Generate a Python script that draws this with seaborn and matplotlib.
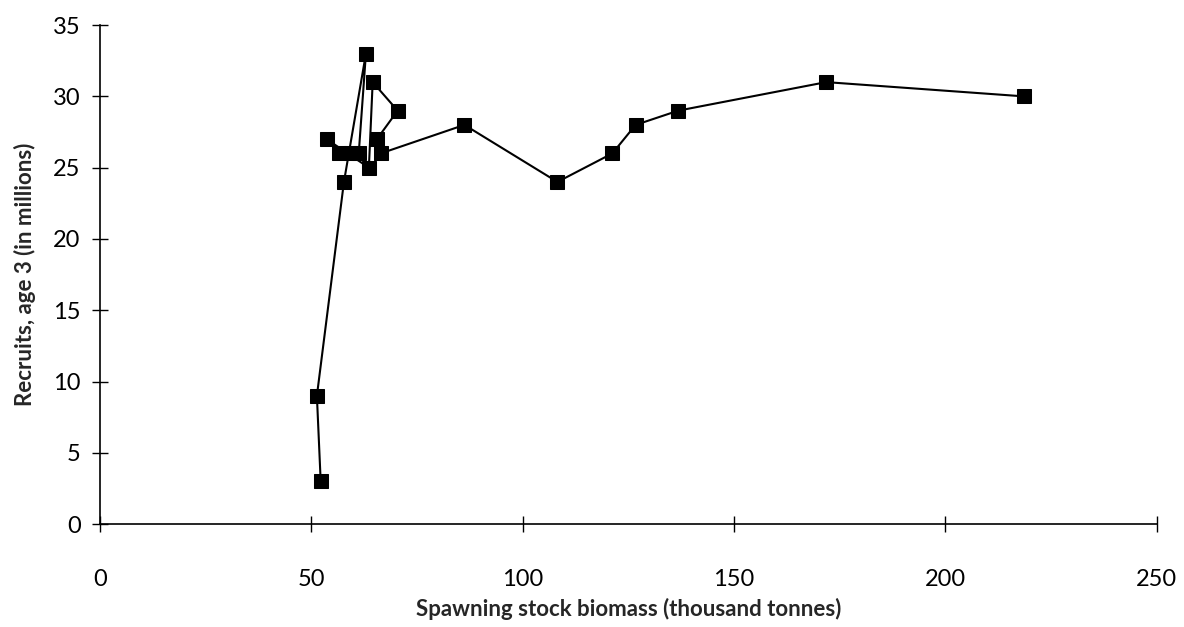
import pandas as pd
import matplotlib.pyplot as plt
import seaborn as sns
import numpy as np

# points in the order the line joins them
biomass = [218.6, 171.8, 136.8, 126.7, 121.2, 108.2, 86.2, 66.4, 65.5, 70.4,
           64.5, 63.6, 53.6, 56.5, 59.3, 61.2, 62.9, 57.7, 51.3, 52.2]
recruits = [30, 31, 29, 28, 26, 24, 28, 26, 27, 29,
            31, 25, 27, 26, 26, 26, 33, 24, 9, 3]

x_ticks = [0, 50, 100, 150, 200, 250]
y_ticks = [0, 5, 10, 15, 20, 25, 30, 35]

df = pd.DataFrame({"SSB": biomass, "Recruits": recruits})

sns.set_style("white")
plt.rcParams['font.family'] = ['Lato', 'DejaVu Sans']

fig = plt.figure(figsize=(11.84, 6.27), dpi=100)
ax = fig.add_axes([0.0845, 0.164, 0.8925, 0.796])

sns.lineplot(x="SSB", y="Recruits", data=df, sort=False, estimator=None,
             color="black", linewidth=1.5, marker="s", markersize=10,
             markeredgecolor="black", markerfacecolor="black", ax=ax)

ax.set_xlim(0, 250)
ax.set_ylim(0, 35)
ax.set_xticks(x_ticks)
ax.set_yticks(y_ticks)

for side in ["top", "right"]:
    ax.spines[side].set_visible(False)
for side in ["left", "bottom"]:
    ax.spines[side].set_color("black")
    ax.spines[side].set_linewidth(1.2)

ax.tick_params(axis="both", direction="inout", length=12, width=1.0,
               color="black", labelsize=17, labelcolor="black",
               bottom=True, left=True)
ax.tick_params(axis="x", pad=26)
ax.tick_params(axis="y", pad=8)

ax.set_xlabel("Spawning stock biomass (thousand tonnes)", fontsize=16,
              fontweight="bold", labelpad=6)
ax.set_ylabel("Recruits, age 3 (in millions)", fontsize=16,
              fontweight="bold", labelpad=12)

plt.savefig("out.png", format="png", dpi=100)
